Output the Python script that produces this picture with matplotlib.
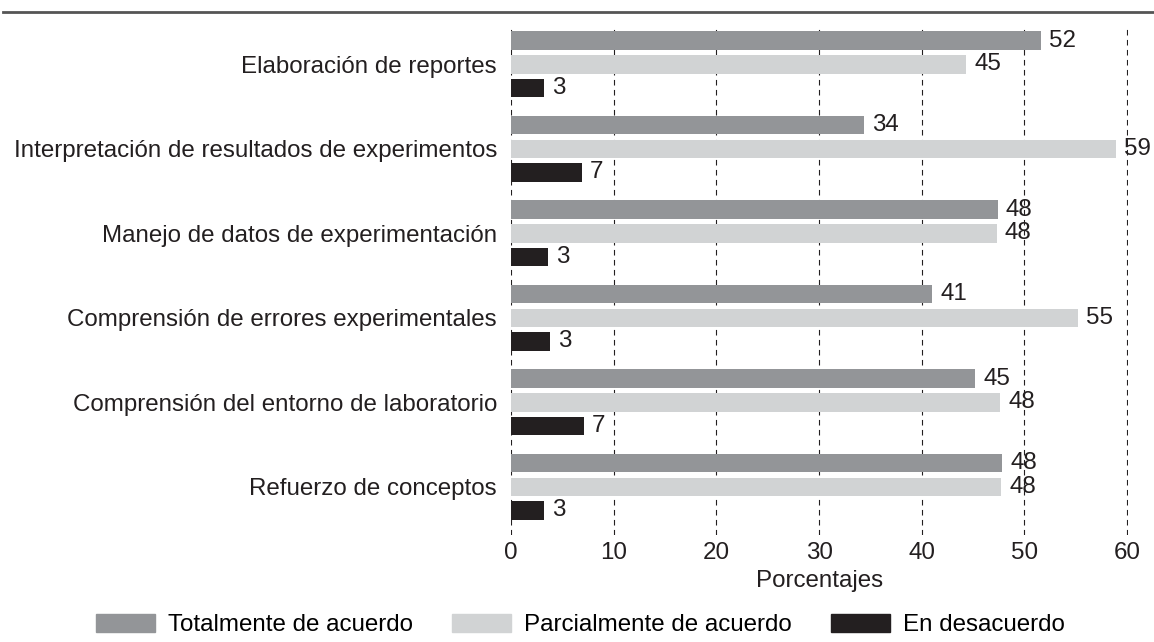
import numpy as np
import matplotlib
matplotlib.use("Agg")
import matplotlib.pyplot as plt
from matplotlib.lines import Line2D
from matplotlib.patches import Patch

plt.rcParams['font.family'] = ['Liberation Sans', 'DejaVu Sans']

# data (bar lengths and printed labels)
categories = ["Elaboración de reportes",
              "Interpretación de resultados de experimentos",
              "Manejo de datos de experimentación",
              "Comprensión de errores experimentales",
              "Comprensión del entorno de laboratorio",
              "Refuerzo de conceptos"]
series_names = ["Totalmente de acuerdo", "Parcialmente de acuerdo", "En desacuerdo"]
totalmente = [51.6, 34.4, 47.4, 41.0, 45.2, 47.8]
parcialmente = [44.3, 58.9, 47.3, 55.2, 47.6, 47.7]
desacuerdo = [3.2, 6.9, 3.6, 3.8, 7.1, 3.2]
lbl_totalmente = [52, 34, 48, 41, 45, 48]
lbl_parcialmente = [45, 59, 48, 55, 48, 48]
lbl_desacuerdo = [3, 7, 3, 3, 7, 3]
xticks = [0, 10, 20, 30, 40, 50, 60]

colors = ["#939598", "#d1d3d4", "#231f20"]
fs = 17.4

fig = plt.figure(figsize=(11.54, 6.42), dpi=100)
ax = fig.add_axes([511/1154, 1 - 535/642, 617/1154, 507/642])

y = np.arange(len(categories))
offsets = [-0.28, 0.0, 0.28]
values = [totalmente, parcialmente, desacuerdo]
labels = [lbl_totalmente, lbl_parcialmente, lbl_desacuerdo]

for vals, lbls, off, col, name in zip(values, labels, offsets, colors, series_names):
    ax.barh(y + off, vals, height=0.22, color=col, label=name, zorder=3)
    for yi, v, l in zip(y + off, vals, lbls):
        ax.annotate(str(l), (v, yi), xytext=(6, 0), textcoords='offset points',
                    ha='left', va='center', fontsize=fs, color='#231f20',
                    annotation_clip=False, zorder=4)

ax.set_xlim(0, 60.1)
ax.set_ylim(5.57, -0.43)
ax.set_yticks(y)
ax.set_yticklabels(categories, fontsize=fs, color='#231f20')
ax.set_xticks(xticks)
ax.set_xticklabels([str(t) for t in xticks], fontsize=fs, color='#231f20')
ax.tick_params(axis='y', length=0, pad=10)
ax.tick_params(axis='x', length=0, pad=5)
ax.set_xlabel("Porcentajes", fontsize=fs, color='#231f20', labelpad=4)
for s in ax.spines.values():
    s.set_visible(False)
ax.grid(axis='x', color='#231f20', linestyle=(0, (5, 4)), linewidth=0.8, zorder=1)

# rule across the top
fig.add_artist(Line2D([3/1154, 1], [1 - 12/642, 1 - 12/642], color='#555555', linewidth=2))

handles = [Patch(color=c) for c in colors]
fig.legend(handles, series_names, loc='center', bbox_to_anchor=(0.503, 1 - 625/642),
           ncol=3, frameon=False, fontsize=fs, handlelength=2.45, handleheight=0.75,
           columnspacing=1.6, handletextpad=0.55, borderpad=0, borderaxespad=0)

fig.savefig("out.png", dpi=100)
